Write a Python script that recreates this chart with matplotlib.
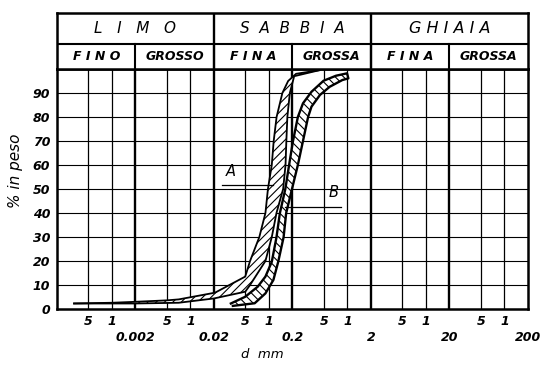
import matplotlib
matplotlib.use('Agg')
import matplotlib.pyplot as plt

plt.rcParams['font.family'] = ['DejaVu Sans']
plt.rcParams['hatch.linewidth'] = 0.8

# ---------------- data ----------------
x_min, x_max = 0.0002, 200
y_ticks = [0, 10, 20, 30, 40, 50, 60, 70, 80, 90]

minor_pos = [0.0005, 0.001, 0.005, 0.01, 0.05, 0.1, 0.5, 1, 5, 10, 50, 100]
minor_labels = ['5', '1'] * 6
decade_pos = [0.002, 0.02, 0.2, 2, 20, 200]
decade_labels = ['0.002', '0.02', '0.2', '2', '20', '200']
thick_lines = [0.002, 0.02, 0.2, 2, 20]

main_names = ['L   I   M   O', 'S  A  B  B  I  A', 'G H I A I A']
main_bounds = [0.0002, 0.02, 2, 200]
sub_names = ['F I N O', 'GROSSO', 'F I N A', 'GROSSA', 'F I N A', 'GROSSA']
sub_bounds = [0.0002, 0.002, 0.02, 0.2, 2, 20, 200]

# band A (hatched "/"): left / right boundary, d in mm and % passing
A_left_d = [0.00033, 0.001, 0.002, 0.005, 0.0071, 0.0206, 0.05, 0.0576, 0.0756,
            0.0904, 0.0973, 0.1089, 0.1152, 0.1254, 0.1486, 0.176, 0.222, 0.44]
A_left_p = [2.3, 2.6, 3.0, 3.6, 4.0, 6.8, 13.5, 20, 30, 40, 50, 60, 70, 80, 90, 95, 98, 99.5]
A_right_d = [0.00033, 0.002, 0.0071, 0.02, 0.05, 0.0576, 0.0904, 0.109, 0.125,
             0.152, 0.163, 0.167, 0.172, 0.185, 0.21, 0.44]
A_right_p = [2.3, 2.3, 2.6, 4.4, 7.2, 10, 20, 30, 40, 50, 60, 70, 80, 90, 97, 99.5]

# band B (hatched "\"): upper-left / lower-right boundary
B_left_d = [0.0328, 0.05, 0.0721, 0.0904, 0.109, 0.125, 0.138, 0.162, 0.181,
            0.203, 0.234, 0.272, 0.349, 0.497, 0.717, 0.99]
B_left_p = [2.3, 5.1, 9.3, 13.5, 19.7, 29.9, 39.9, 50, 60, 70, 80, 85.7, 90.5, 95.1, 97.2, 98.2]
B_right_d = [0.0348, 0.066, 0.0904, 0.1142, 0.1316, 0.154, 0.166, 0.197, 0.234,
             0.272, 0.316, 0.349, 0.448, 0.596, 0.863, 1.03]
B_right_p = [1.3, 2.4, 6.5, 12.1, 19.7, 29.9, 39.9, 50, 60, 70, 80, 84.3, 89.2, 92.6, 95.4, 96.1]

# labels A / B with leader lines
A_label = (0.0325, 54.0)
A_leader_d = [0.025, 0.114]
A_leader_p = [51.7, 51.7]
B_label = (0.66, 45.5)
B_leader_d = [0.16, 0.82]
B_leader_p = [42.6, 42.6]

# ---------------- figure ----------------
W, H = 542, 365
fig = plt.figure(figsize=(W / 100, H / 100), dpi=100)
L, R, T, Bt = 57, 528, 69, 309
ax = fig.add_axes([L / W, (H - Bt) / H, (R - L) / W, (Bt - T) / H])
ax.set_xscale('log')
ax.set_xlim(x_min, x_max)
ax.set_ylim(0, 100)
ax.minorticks_off()

for y in range(10, 100, 10):
    ax.axhline(y, color='black', lw=0.8, zorder=1)
for x in minor_pos:
    ax.axvline(x, color='black', lw=0.9, zorder=1)
for x in thick_lines:
    ax.axvline(x, color='black', lw=1.7, zorder=1)
for s in ax.spines.values():
    s.set_linewidth(1.8)

# bands
ax.fill(A_left_d + A_right_d[::-1], A_left_p + A_right_p[::-1],
        facecolor='white', edgecolor='black', hatch='////', lw=0, zorder=2)
ax.plot(A_left_d, A_left_p, color='black', lw=1.3, zorder=3)
ax.plot(A_right_d, A_right_p, color='black', lw=1.3, zorder=3)

ax.fill(B_left_d + B_right_d[::-1], B_left_p + B_right_p[::-1],
        facecolor='white', edgecolor='black', hatch='\\\\\\\\', lw=0, zorder=2)
ax.plot(B_left_d + B_right_d[::-1], B_left_p + B_right_p[::-1],
        color='black', lw=1.7, zorder=3)

ax.plot(A_leader_d, A_leader_p, color='black', lw=0.9, zorder=4)
ax.plot(B_leader_d, B_leader_p, color='black', lw=0.9, zorder=4)
ax.text(A_label[0], A_label[1], 'A', fontsize=10.5, style='italic', ha='center', va='bottom', zorder=5)
ax.text(B_label[0], B_label[1], 'B', fontsize=10.5, style='italic', ha='center', va='bottom', zorder=5)

# y ticks
ax.set_yticks(y_ticks)
ax.set_yticklabels([str(v) for v in y_ticks], fontsize=9, style='italic', weight='bold')
ax.tick_params(axis='y', length=0, pad=5)
ax.set_xticks([])

xt = ax.get_xaxis_transform()
for x, lab in zip(minor_pos, minor_labels):
    ax.text(x, -0.052, lab, transform=xt, ha='center', va='center',
            fontsize=9, style='italic', weight='bold')
for x, lab in zip(decade_pos, decade_labels):
    ax.text(x, -0.118, lab, transform=xt, ha='center', va='center',
            fontsize=9, style='italic', weight='bold')

fig.text(262 / W, 1 - 354 / H, 'd  mm', ha='center', va='center', fontsize=9.5, style='italic')
fig.text(16 / W, 1 - 171 / H, '% in peso', rotation=90, ha='center', va='center',
         fontsize=11, style='italic')

# header
Htop, Hmid = 13, 44
hax = fig.add_axes([L / W, (H - T) / H, (R - L) / W, (T - Htop) / H])
hax.set_xscale('log')
hax.set_xlim(x_min, x_max)
hax.set_ylim(0, T - Htop)
hax.set_xticks([])
hax.set_yticks([])
hax.minorticks_off()
for s in hax.spines.values():
    s.set_linewidth(1.8)
mid = T - Hmid
hax.axhline(mid, color='black', lw=1.5)
for x in main_bounds[1:-1]:
    hax.axvline(x, color='black', lw=1.7)
for x in sub_bounds[1:-1]:
    hax.plot([x, x], [0, mid], color='black', lw=1.5)

for i, name in enumerate(main_names):
    xc = (main_bounds[i] * main_bounds[i + 1]) ** 0.5
    hax.text(xc, (mid + T - Htop) / 2, name, ha='center', va='center',
             fontsize=11.5 if i == 2 else 11, style='italic')
for i, name in enumerate(sub_names):
    xc = (sub_bounds[i] * sub_bounds[i + 1]) ** 0.5
    hax.text(xc, mid / 2, name, ha='center', va='center',
             fontsize=9, style='italic', weight='bold')

fig.savefig('out.png', dpi=100)
